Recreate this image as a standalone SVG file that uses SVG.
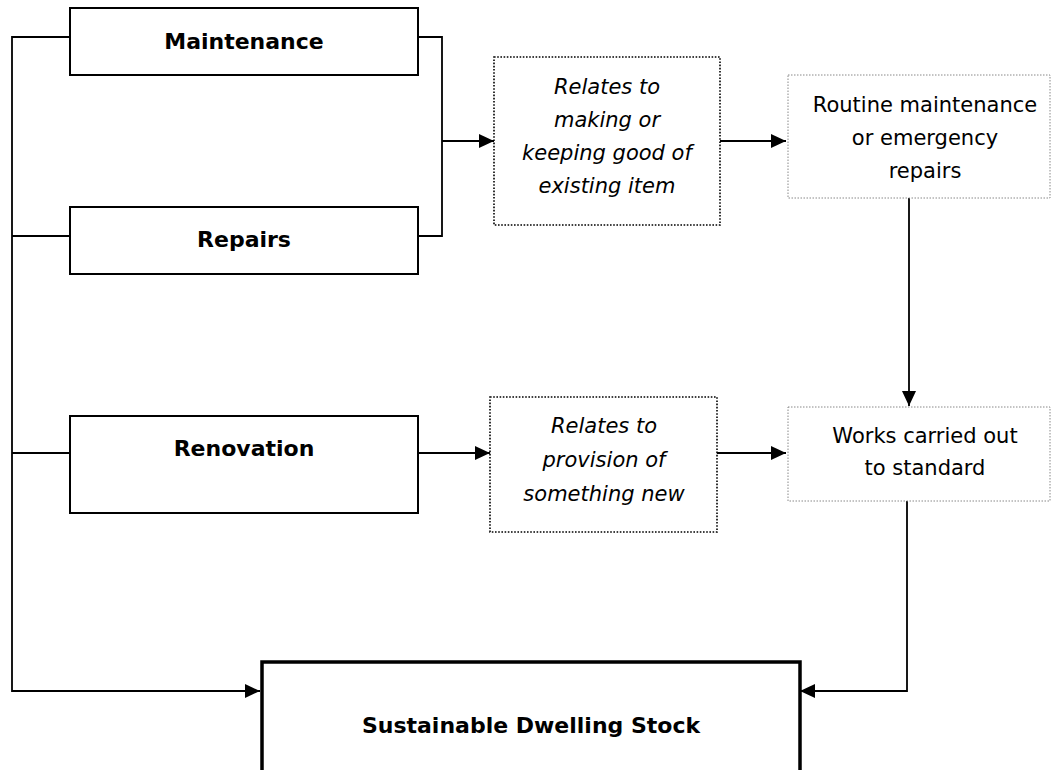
<svg xmlns="http://www.w3.org/2000/svg" width="1052" height="770" viewBox="0 0 1052 770">
<style>
text{font-family:"DejaVu Sans","Liberation Sans",sans-serif;font-size:21px;fill:#000;text-anchor:middle}
.b{font-weight:bold;font-size:22px}
.i{font-style:italic}
.solid{fill:#fff;stroke:#000;stroke-width:2}
.dot{fill:#fff;stroke:#000;stroke-width:1.6;stroke-dasharray:1.6 1.6}
.grey{fill:#fff;stroke:#888;stroke-width:1;stroke-dasharray:1.5 1.5}
.thick{fill:#fff;stroke:#000;stroke-width:3.5}
.c{fill:none;stroke:#000;stroke-width:1.8}
</style>
<defs>
<marker id="ah" markerUnits="userSpaceOnUse" markerWidth="15" markerHeight="14" viewBox="0 0 15 14" refX="15" refY="7" orient="auto">
<path d="M0,0 L15,7 L0,14 Z" fill="#000"/>
</marker>
</defs>
<g id="connectors">
<path class="c" d="M70,37 H12 V691 H260" marker-end="url(#ah)"/>
<path class="c" d="M12,236 H70"/>
<path class="c" d="M12,453 H70"/>
<path class="c" d="M418,37 H442 V236 H418"/>
<path class="c" d="M442,141 H494" marker-end="url(#ah)"/>
<path class="c" d="M418,453 H490" marker-end="url(#ah)"/>
<path class="c" d="M720,141 H786" marker-end="url(#ah)"/>
<path class="c" d="M717,453 H786" marker-end="url(#ah)"/>
<path class="c" d="M909,198 V406" marker-end="url(#ah)"/>
<path class="c" d="M907,501 V691 H800" marker-end="url(#ah)"/>
</g>
<g id="maintenance">
<rect class="solid" x="70" y="8" width="348" height="67"/>
<text class="b" x="244" y="49">Maintenance</text>
</g>
<g id="repairs">
<rect class="solid" x="70" y="207" width="348" height="67"/>
<text class="b" x="244" y="247">Repairs</text>
</g>
<g id="renovation">
<rect class="solid" x="70" y="416" width="348" height="97"/>
<text class="b" x="244" y="456">Renovation</text>
</g>
<g id="relates-existing">
<rect class="dot" x="494" y="57" width="226" height="168"/>
<text class="i" x="607" y="94">Relates to</text>
<text class="i" x="607" y="127">making or</text>
<text class="i" x="607" y="160">keeping good of</text>
<text class="i" x="607" y="193">existing item</text>
</g>
<g id="relates-new">
<rect class="dot" x="490" y="397" width="227" height="135"/>
<text class="i" x="604" y="433">Relates to</text>
<text class="i" x="604" y="467">provision of</text>
<text class="i" x="604" y="501">something new</text>
</g>
<g id="routine">
<rect class="grey" x="788" y="75" width="262" height="123"/>
<text x="925" y="112">Routine maintenance</text>
<text x="925" y="145">or emergency</text>
<text x="925" y="178">repairs</text>
</g>
<g id="works">
<rect class="grey" x="788" y="407" width="262" height="94"/>
<text x="925" y="443">Works carried out</text>
<text x="925" y="475">to standard</text>
</g>
<g id="stock">
<rect class="thick" x="262" y="662" width="538" height="140"/>
<text class="b" x="531" y="733">Sustainable Dwelling Stock</text>
</g>
</svg>
